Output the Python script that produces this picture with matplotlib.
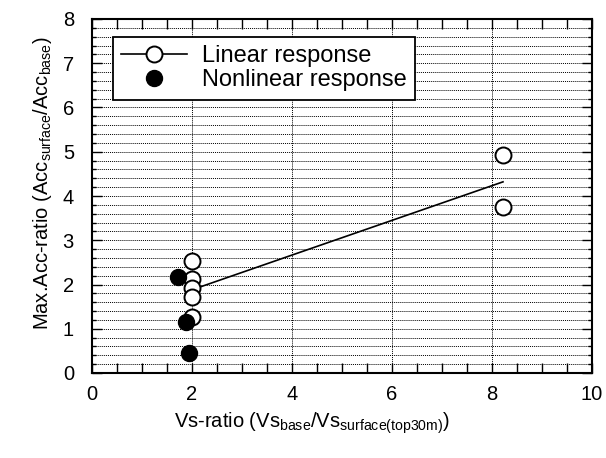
import numpy as np
import matplotlib
matplotlib.use("Agg")
import matplotlib.pyplot as plt
from matplotlib.ticker import MultipleLocator
from matplotlib.lines import Line2D

plt.rcParams["font.family"] = ["Liberation Sans", "DejaVu Sans"]
plt.rcParams["mathtext.fontset"] = "custom"
plt.rcParams["mathtext.rm"] = "Liberation Sans"
plt.rcParams["mathtext.it"] = "Liberation Sans"

# linear response (open circles)
lin_x = [8.22, 8.22, 2.0, 2.0, 2.0, 2.0, 2.0]
lin_y = [4.93, 3.75, 2.53, 2.12, 1.92, 1.71, 1.27]

# nonlinear response (filled circles)
non_x = [1.72, 1.88, 1.94]
non_y = [2.17, 1.15, 0.45]

# fitted trend for the linear cases
fit_x = [2.1, 8.22]
fit_y = [1.92, 4.32]

fig = plt.figure(figsize=(6.06, 4.58), dpi=100)
ax = fig.add_axes([92 / 606, 85 / 458, 500 / 606, 354 / 458])

ax.set_xlim(0, 10)
ax.set_ylim(0, 8)

ax.xaxis.set_major_locator(MultipleLocator(2))
ax.xaxis.set_minor_locator(MultipleLocator(0.5))
ax.yaxis.set_major_locator(MultipleLocator(1))
ax.yaxis.set_minor_locator(MultipleLocator(0.2))

grid_kw = dict(color="black", linestyle=(0, (1, 1)), linewidth=0.7)
ax.xaxis.grid(True, which="major", **grid_kw)
ax.yaxis.grid(True, which="both", **grid_kw)
ax.set_axisbelow(True)

ax.tick_params(which="both", direction="in", top=True, right=True, width=1.0)
ax.tick_params(which="major", length=7, labelsize=14.5)
ax.tick_params(axis="x", which="major", pad=9)
ax.tick_params(axis="y", which="major", pad=13)
ax.tick_params(axis="x", which="minor", length=7)
ax.tick_params(axis="y", which="minor", length=3)
for s in ax.spines.values():
    s.set_linewidth(1.5)

ax.plot(fit_x, fit_y, color="black", linewidth=1.2, zorder=3)
ax.plot(lin_x, lin_y, linestyle="none", marker="o", markersize=11.5,
        markerfacecolor="white", markeredgecolor="black", markeredgewidth=1.4, zorder=4)
ax.plot(non_x, non_y, linestyle="none", marker="o", markersize=11.5,
        markerfacecolor="black", markeredgecolor="black", zorder=5)

ax.set_xlabel(r"Vs-ratio (Vs$_{\mathrm{base}}$/Vs$_{\mathrm{surface(top30m)}}$)",
              fontsize=14.5)
ax.xaxis.set_label_coords(0.44, -0.105)
ax.set_ylabel(r"Max.Acc-ratio (Acc$_{\mathrm{surface}}$/Acc$_{\mathrm{base}}$)",
              fontsize=14.5)
ax.yaxis.set_label_coords(-0.075, 0.535)

handles = [
    Line2D([], [], color="black", linewidth=1.2, marker="o", markersize=11.5,
           markerfacecolor="white", markeredgecolor="black", markeredgewidth=1.4),
    Line2D([], [], linestyle="none", marker="o", markersize=11.5,
           markerfacecolor="black", markeredgecolor="black"),
]
leg = ax.legend(handles, ["Linear response", "Nonlinear response"],
                loc="upper left", bbox_to_anchor=(0.042, 0.95), fontsize=17,
                fancybox=False, framealpha=1, edgecolor="black",
                handlelength=2.8, handletextpad=0.6, borderpad=0.35,
                labelspacing=0.1, borderaxespad=0)
leg.get_frame().set_linewidth(1.3)

fig.savefig("out.png", dpi=100)
